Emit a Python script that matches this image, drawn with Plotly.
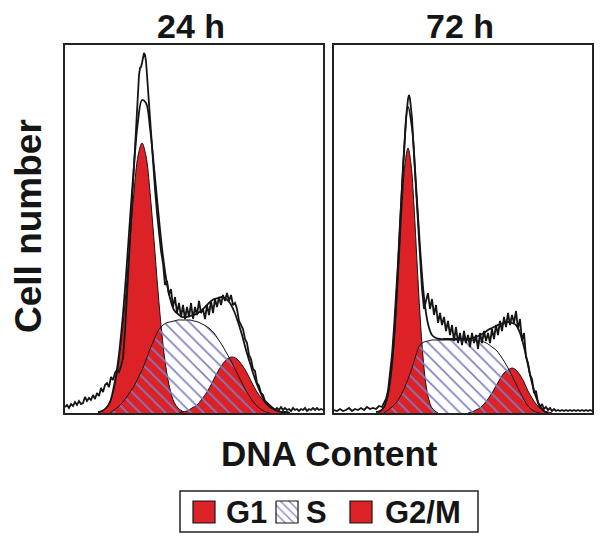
import plotly.graph_objects as go

# ---------------- text ----------------
panel_titles = ["24 h", "72 h"]
x_label = "DNA Content"
y_label = "Cell number"
legend_labels = ["G1", "S", "G2/M"]

# ---------------- 24 h panel (x = DNA channel, y = cell count) ----------------
g1_24_x = [33, 37, 41, 45, 49, 53, 57, 61, 65, 69, 73, 77, 81, 85, 89, 93, 97, 101, 105, 109, 113, 117, 121]
g1_24_y = [0, 2, 5, 11, 24, 45, 78, 122, 173, 221, 257, 270, 257, 221, 173, 122, 78, 45, 24, 11, 5, 2, 0]

s_24_x = list(range(45, 206, 4))
s_24_y = [0, 3, 6, 10, 15, 21, 27, 35, 43, 53, 64, 73, 82, 87, 90, 91, 92, 93, 93, 93,
          93, 92, 91, 89, 87, 84, 80, 74, 68, 61, 54, 46, 38, 30, 22, 16, 10, 6, 3, 1, 0]

g2_24_x = list(range(112, 223, 5))
g2_24_y = [0, 1, 2, 5, 8, 14, 21, 30, 40, 48, 54, 56, 54, 48, 40, 30, 21, 14, 8, 5, 2, 1, 0]

fit_24_x = list(range(33, 226, 4))
fit_24_y = [1, 2, 5, 11, 27, 51, 88, 137, 194, 248, 292, 313, 310, 285, 246, 204, 165, 135, 115, 103,
            99, 96, 96, 97, 98, 100, 103, 107, 111, 114, 115, 116, 114, 110, 102, 91, 78, 63, 50, 37,
            26, 17, 10, 6, 4, 2, 1, 1, 0]

raw_24_x = (list(range(0, 59, 2))
            + [60, 62, 64, 66, 68, 70, 72, 74, 75, 76, 77, 78, 79, 80, 81, 82, 84, 86, 88, 90]
            + list(range(92, 201, 2))
            + list(range(202, 259, 2)))
raw_24_y = ([6, 8, 5, 9, 7, 11, 8, 12, 9, 10, 16, 12, 15, 13, 18, 14, 20, 17, 25, 21,
             28, 30, 26, 36, 33, 40, 43, 41, 47, 55]
            + [82, 118, 158, 196, 230, 268, 306, 338, 345, 346, 350, 356, 360, 358, 352, 338, 308, 280, 256, 224]
            + [200, 178, 162, 150, 128, 132, 118, 124, 106, 116, 100, 110, 96, 108, 94, 106, 96, 110, 94, 106,
               98, 112, 100, 104, 94, 108, 98, 112, 100, 114, 106, 116, 108, 118, 112, 120, 112, 118, 108, 110,
               104, 92, 88, 84, 74, 70, 58, 54, 44, 42, 30, 27, 20, 18, 12]
            + [10, 8, 6, 4, 3, 5, 3, 6, 3, 5, 3, 4, 2, 5, 3, 4, 2, 4, 3, 5, 2, 4, 3, 5, 3, 5, 3, 4, 3])

# ---------------- 72 h panel ----------------
g1_72_x = list(range(44, 105, 3))
g1_72_y = [0, 2, 5, 13, 28, 56, 98, 151, 207, 249, 265, 249, 207, 151, 98, 56, 28, 13, 5, 2, 0]

s_72_x = list(range(50, 207, 4))
s_72_y = [0, 3, 6, 10, 16, 24, 34, 45, 58, 68, 71, 72, 73, 73, 73, 73, 73, 73, 73, 73,
          73, 73, 73, 72, 72, 71, 69, 66, 63, 58, 52, 45, 37, 29, 21, 13, 7, 3, 1, 0]

g2_72_x = list(range(134, 219, 4))
g2_72_y = [0, 1, 3, 5, 9, 14, 20, 27, 34, 40, 43, 45, 43, 38, 31, 22, 15, 9, 5, 2, 1, 0]

fit_72_x = list(range(42, 215, 4))
fit_72_y = [1, 2, 6, 20, 51, 108, 186, 262, 306, 285, 228, 166, 116, 89, 78, 75, 74, 74, 74, 74,
            74, 74, 74, 74, 75, 76, 78, 80, 83, 85, 87, 89, 90, 91, 90, 88, 80, 66, 48, 30,
            16, 7, 2, 0]

raw_72_x = (list(range(0, 49, 3))
            + [50, 52, 54, 56, 58, 60, 62, 64, 66, 68, 70, 72, 74, 75, 76, 78, 80, 82, 84, 86, 88, 90]
            + list(range(92, 209, 2))
            + list(range(210, 259, 2)))
raw_72_y = ([3, 2, 4, 2, 3, 5, 2, 4, 3, 5, 3, 6, 4, 5, 4, 7, 6]
            + [10, 14, 22, 40, 58, 85, 115, 150, 190, 228, 265, 295, 314, 318, 314, 295, 258, 222, 190, 155, 124, 104]
            + [112, 120, 104, 114, 98, 108, 90, 100, 88, 96, 82, 92, 78, 88, 72, 86, 70, 80, 68, 82,
               70, 78, 66, 80, 70, 78, 64, 80, 70, 82, 72, 80, 70, 84, 74, 88, 78, 92, 82, 96,
               86, 100, 88, 98, 90, 102, 84, 94, 72, 80, 56, 50, 38, 34, 20, 22, 10, 6, 9]
            + [4, 6, 3, 5, 2, 4, 2, 3, 2, 3, 2, 3, 2, 3, 2, 3, 2, 3, 2, 3, 2, 3, 2, 3, 2])

# ---------------- styling ----------------
RED = "#dc2127"
HATCH = "#7c7fc4"
INK = "#151515"
FONT = "Liberation Sans, Arial, Helvetica, sans-serif"
PAGE_MARGIN = 8              # the browser's default body margin
W, H = 604 - PAGE_MARGIN, 542 - PAGE_MARGIN


def px(x):
    return (x - PAGE_MARGIN) / W


def py(y):
    return 1 - (y - PAGE_MARGIN) / H


panels = [
    dict(g1=(g1_24_x, g1_24_y), s=(s_24_x, s_24_y), g2=(g2_24_x, g2_24_y),
         fit=(fit_24_x, fit_24_y), raw=(raw_24_x, raw_24_y), xa="x", ya="y"),
    dict(g1=(g1_72_x, g1_72_y), s=(s_72_x, s_72_y), g2=(g2_72_x, g2_72_y),
         fit=(fit_72_x, fit_72_y), raw=(raw_72_x, raw_72_y), xa="x2", ya="y2"),
]

fig = go.Figure()
for p in panels:
    for key in ("g1", "g2"):
        xs, ys = p[key]
        fig.add_trace(go.Scatter(x=xs, y=ys, mode="lines", fill="tozeroy", fillcolor=RED,
                                 line=dict(color=INK, width=1, shape="spline", smoothing=1),
                                 xaxis=p["xa"], yaxis=p["ya"], showlegend=False, hoverinfo="skip"))
    xs, ys = p["s"]
    fig.add_trace(go.Scatter(x=xs, y=ys, mode="lines", fill="tozeroy", fillcolor="rgba(0,0,0,0)",
                             fillpattern=dict(shape="\\", fgcolor=HATCH, size=9, solidity=0.18,
                                              fillmode="replace"),
                             line=dict(color=INK, width=1, shape="spline", smoothing=1),
                             xaxis=p["xa"], yaxis=p["ya"], showlegend=False, hoverinfo="skip"))
    xs, ys = p["fit"]
    fig.add_trace(go.Scatter(x=xs, y=ys, mode="lines",
                             line=dict(color=INK, width=1.8, shape="spline", smoothing=1),
                             xaxis=p["xa"], yaxis=p["ya"], showlegend=False, hoverinfo="skip"))
    xs, ys = p["raw"]
    fig.add_trace(go.Scatter(x=xs, y=ys, mode="lines",
                             line=dict(color=INK, width=1.8),
                             xaxis=p["xa"], yaxis=p["ya"], showlegend=False, hoverinfo="skip"))

# legend hatched swatch, drawn on a full-page helper axis measured in page pixels
fig.add_trace(go.Scatter(x=[276, 298, 298, 276, 276], y=[501, 501, 523, 523, 501], mode="lines",
                         fill="toself", fillcolor="rgba(0,0,0,0)",
                         fillpattern=dict(shape="\\", fgcolor=HATCH, size=6, solidity=0.2, fillmode="replace"),
                         line=dict(color=INK, width=1.2), xaxis="x3", yaxis="y3",
                         showlegend=False, hoverinfo="skip"))

axis_common = dict(showgrid=False, zeroline=False, showticklabels=False, ticks="",
                   showline=True, mirror=True, linecolor="#222222", linewidth=2, fixedrange=True)
ytop, ybot = 45, 413
fig.update_layout(
    width=W, height=H, margin=dict(l=0, r=0, t=0, b=0),
    paper_bgcolor="white", plot_bgcolor="rgba(0,0,0,0)", showlegend=False,
    xaxis=dict(domain=[px(65), px(323)], range=[0, 258], anchor="y", **axis_common),
    yaxis=dict(domain=[py(ybot), py(ytop)], range=[0, 368], anchor="x", **axis_common),
    xaxis2=dict(domain=[px(334), px(592)], range=[0, 258], anchor="y2", **axis_common),
    yaxis2=dict(domain=[py(ybot), py(ytop)], range=[0, 368], anchor="x2", **axis_common),
    xaxis3=dict(domain=[0, 1], range=[PAGE_MARGIN, PAGE_MARGIN + W], visible=False, anchor="y3",
                fixedrange=True),
    yaxis3=dict(domain=[0, 1], range=[PAGE_MARGIN + H, PAGE_MARGIN], visible=False, anchor="x3",
                fixedrange=True),
)


def ann(text, x, y, size, xanchor="center", angle=0):
    fig.add_annotation(text=f"<b>{text}</b>", x=px(x), y=py(y), xref="paper", yref="paper",
                       xanchor=xanchor, yanchor="middle", showarrow=False, textangle=angle,
                       font=dict(family=FONT, size=size, color=INK))


ann(panel_titles[0], 191, 26, 34)
ann(panel_titles[1], 460, 26, 34)
ann(x_label, 329, 453, 35)
ann(y_label, 28, 226, 37, angle=-90)

# legend box and red swatches
fig.add_shape(type="rect", xref="paper", yref="paper", x0=px(180), x1=px(478),
              y0=py(532), y1=py(491), line=dict(color="#222222", width=1.5), fillcolor="rgba(0,0,0,0)")
for x0 in (193, 350):
    fig.add_shape(type="rect", xref="paper", yref="paper", x0=px(x0), x1=px(x0 + 22),
                  y0=py(523), y1=py(501), line=dict(color=INK, width=1.2), fillcolor=RED)
ann(legend_labels[0], 224, 512, 31, xanchor="left")
ann(legend_labels[1], 304, 512, 31, xanchor="left")
ann(legend_labels[2], 383, 512, 31, xanchor="left")

fig.write_html("out.html")
